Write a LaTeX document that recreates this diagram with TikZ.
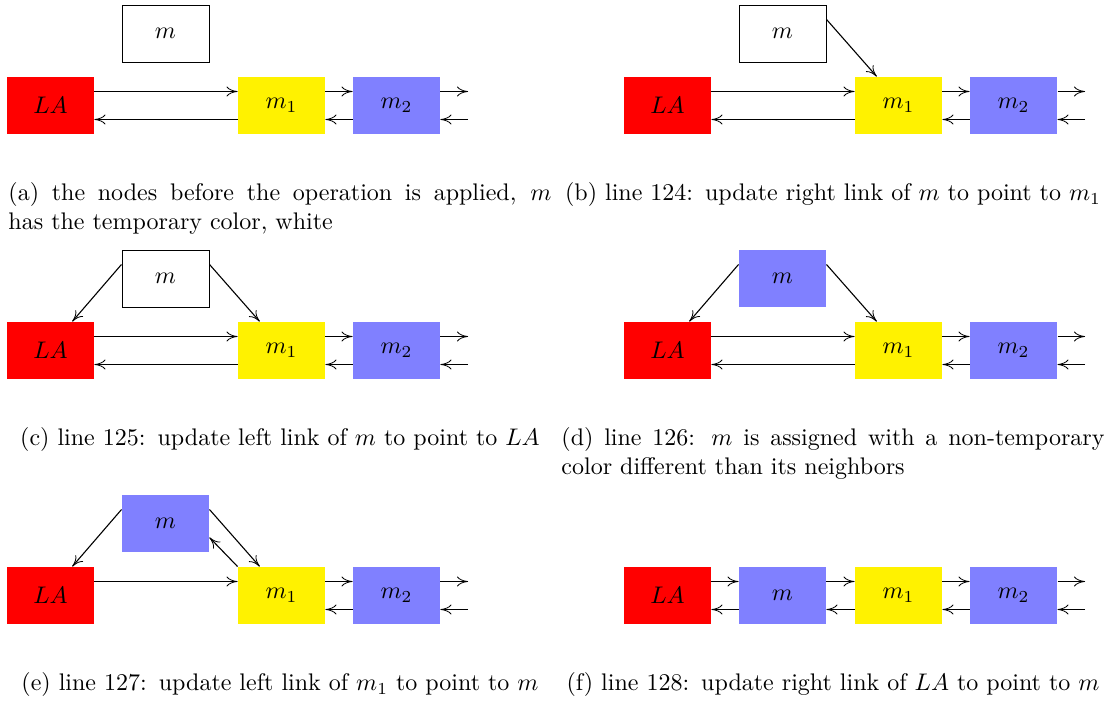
\documentclass[tikz,border=0pt]{standalone}
\usetikzlibrary{arrows.meta}
\begin{document}
\begin{tikzpicture}[x=0.5pt,y=-0.5pt,
  box/.style={minimum width=36.25pt,minimum height=23.75pt,inner sep=0pt,scale=1.2},
  lanode/.style={box,fill=red},
  ylwnode/.style={box,fill=yellow},
  blunode/.style={box,fill=blue!50},
  tmpnode/.style={box,draw=black,line width=0.45pt,fill=white},
  link/.style={-{To[length=5.5pt,width=5pt,line width=0.4pt]},line width=0.55pt},
  captext/.style={text width=226.25pt,inner sep=0pt,anchor=base west,align=justify},
  captextc/.style={captext,align=center},
  capscope/.style={scale=1.2,transform shape}
]
\useasboundingbox (0,0) rectangle (1106,704);

% (a) initial state
\begin{scope}[shift={(0,0)}]
  \node[tmpnode] (am) at (165.5,33.5) {$m$};
  \node[lanode] (aLA) at (50.5,105.5) {$LA$};
  \node[ylwnode] (am1) at (281.5,105.5) {$m_1$};
  \node[blunode] (am2) at (396.5,105.5) {$m_2$};
  \coordinate (aR) at (468,105.5);
  \draw[link] ([yshift=7pt]aLA.east) -- ([yshift=7pt]am1.west);
  \draw[link] ([yshift=-7pt]am1.west) -- ([yshift=-7pt]aLA.east);
  \draw[link] ([yshift=7pt]am1.east) -- ([yshift=7pt]am2.west);
  \draw[link] ([yshift=-7pt]am2.west) -- ([yshift=-7pt]am1.east);
  \draw[link] ([yshift=7pt]am2.east) -- ([yshift=7pt]aR);
  \draw[link] ([yshift=-7pt]aR) -- ([yshift=-7pt]am2.east);
\end{scope}

% (b) right link of m
\begin{scope}[shift={(617,0)}]
  \node[tmpnode] (bm) at (165.5,33.5) {$m$};
  \node[lanode] (bLA) at (50.5,105.5) {$LA$};
  \node[ylwnode] (bm1) at (281.5,105.5) {$m_1$};
  \node[blunode] (bm2) at (396.5,105.5) {$m_2$};
  \coordinate (bR) at (468,105.5);
  \draw[link] ([yshift=7pt]bm.east) -- ([xshift=-10.9pt]bm1.north);
  \draw[link] ([yshift=7pt]bLA.east) -- ([yshift=7pt]bm1.west);
  \draw[link] ([yshift=-7pt]bm1.west) -- ([yshift=-7pt]bLA.east);
  \draw[link] ([yshift=7pt]bm1.east) -- ([yshift=7pt]bm2.west);
  \draw[link] ([yshift=-7pt]bm2.west) -- ([yshift=-7pt]bm1.east);
  \draw[link] ([yshift=7pt]bm2.east) -- ([yshift=7pt]bR);
  \draw[link] ([yshift=-7pt]bR) -- ([yshift=-7pt]bm2.east);
\end{scope}

% (c) left link of m
\begin{scope}[shift={(0,245)}]
  \node[tmpnode] (cm) at (165.5,33.5) {$m$};
  \node[lanode] (cLA) at (50.5,105.5) {$LA$};
  \node[ylwnode] (cm1) at (281.5,105.5) {$m_1$};
  \node[blunode] (cm2) at (396.5,105.5) {$m_2$};
  \coordinate (cR) at (468,105.5);
  \draw[link] ([yshift=7pt]cm.east) -- ([xshift=-10.9pt]cm1.north);
  \draw[link] ([yshift=7pt]cm.west) -- ([xshift=10.9pt]cLA.north);
  \draw[link] ([yshift=7pt]cLA.east) -- ([yshift=7pt]cm1.west);
  \draw[link] ([yshift=-7pt]cm1.west) -- ([yshift=-7pt]cLA.east);
  \draw[link] ([yshift=7pt]cm1.east) -- ([yshift=7pt]cm2.west);
  \draw[link] ([yshift=-7pt]cm2.west) -- ([yshift=-7pt]cm1.east);
  \draw[link] ([yshift=7pt]cm2.east) -- ([yshift=7pt]cR);
  \draw[link] ([yshift=-7pt]cR) -- ([yshift=-7pt]cm2.east);
\end{scope}

% (d) m gets its colour
\begin{scope}[shift={(617,245)}]
  \node[blunode] (dm) at (165.5,33.5) {$m$};
  \node[lanode] (dLA) at (50.5,105.5) {$LA$};
  \node[ylwnode] (dm1) at (281.5,105.5) {$m_1$};
  \node[blunode] (dm2) at (396.5,105.5) {$m_2$};
  \coordinate (dR) at (468,105.5);
  \draw[link] ([yshift=7pt]dm.east) -- ([xshift=-10.9pt]dm1.north);
  \draw[link] ([yshift=7pt]dm.west) -- ([xshift=10.9pt]dLA.north);
  \draw[link] ([yshift=7pt]dLA.east) -- ([yshift=7pt]dm1.west);
  \draw[link] ([yshift=-7pt]dm1.west) -- ([yshift=-7pt]dLA.east);
  \draw[link] ([yshift=7pt]dm1.east) -- ([yshift=7pt]dm2.west);
  \draw[link] ([yshift=-7pt]dm2.west) -- ([yshift=-7pt]dm1.east);
  \draw[link] ([yshift=7pt]dm2.east) -- ([yshift=7pt]dR);
  \draw[link] ([yshift=-7pt]dR) -- ([yshift=-7pt]dm2.east);
\end{scope}

% (e) left link of m1
\begin{scope}[shift={(0,490)}]
  \node[blunode] (em) at (165.5,33.5) {$m$};
  \node[lanode] (eLA) at (50.5,105.5) {$LA$};
  \node[ylwnode] (em1) at (281.5,105.5) {$m_1$};
  \node[blunode] (em2) at (396.5,105.5) {$m_2$};
  \coordinate (eR) at (468,105.5);
  \draw[link] ([yshift=7pt]em.east) -- ([xshift=-10.9pt]em1.north);
  \draw[link] ([yshift=7pt]em.west) -- ([xshift=10.9pt]eLA.north);
  \draw[link] (em1.north west) -- ([yshift=-7pt]em.east);
  \draw[link] ([yshift=7pt]eLA.east) -- ([yshift=7pt]em1.west);
  \draw[link] ([yshift=7pt]em1.east) -- ([yshift=7pt]em2.west);
  \draw[link] ([yshift=-7pt]em2.west) -- ([yshift=-7pt]em1.east);
  \draw[link] ([yshift=7pt]em2.east) -- ([yshift=7pt]eR);
  \draw[link] ([yshift=-7pt]eR) -- ([yshift=-7pt]em2.east);
\end{scope}

% (f) right link of LA, m is now in the list
\begin{scope}[shift={(617,490)}]
  \node[lanode] (fLA) at (50.5,105.5) {$LA$};
  \node[blunode] (fm) at (165.5,105.5) {$m$};
  \node[ylwnode] (fm1) at (281.5,105.5) {$m_1$};
  \node[blunode] (fm2) at (396.5,105.5) {$m_2$};
  \coordinate (fR) at (468,105.5);
  \draw[link] ([yshift=7pt]fLA.east) -- ([yshift=7pt]fm.west);
  \draw[link] ([yshift=-7pt]fm.west) -- ([yshift=-7pt]fLA.east);
  \draw[link] ([yshift=7pt]fm.east) -- ([yshift=7pt]fm1.west);
  \draw[link] ([yshift=-7pt]fm1.west) -- ([yshift=-7pt]fm.east);
  \draw[link] ([yshift=7pt]fm1.east) -- ([yshift=7pt]fm2.west);
  \draw[link] ([yshift=-7pt]fm2.west) -- ([yshift=-7pt]fm1.east);
  \draw[link] ([yshift=7pt]fm2.east) -- ([yshift=7pt]fR);
  \draw[link] ([yshift=-7pt]fR) -- ([yshift=-7pt]fm2.east);
\end{scope}

% sub-captions
\begin{scope}[shift={(8,200.5)},capscope]
  \node[captext] (capa) at (0,0) {(a) the nodes before the operation is applied, $m$\linebreak has the temporary color, white};
\end{scope}
\begin{scope}[shift={(561,200.5)},capscope]
  \node[captextc] (capb) at (0,0) {(b) line 124: update right link of $m$ to point to $m_1$};
\end{scope}
\begin{scope}[shift={(8,445.5)},capscope]
  \node[captextc] (capc) at (0,0) {(c) line 125: update left link of $m$ to point to $LA$};
\end{scope}
\begin{scope}[shift={(561,445.5)},capscope]
  \node[captext] (capd) at (0,0) {(d) line 126: $m$ is assigned with a non-temporary\linebreak color different than its neighbors};
\end{scope}
\begin{scope}[shift={(8,690.5)},capscope]
  \node[captextc] (cape) at (0,0) {(e) line 127: update left link of $m_1$ to point to $m$};
\end{scope}
\begin{scope}[shift={(561,690.5)},capscope]
  \node[captextc] (capf) at (0,0) {(f) line 128: update right link of $LA$ to point to $m$};
\end{scope}
\end{tikzpicture}
\end{document}
